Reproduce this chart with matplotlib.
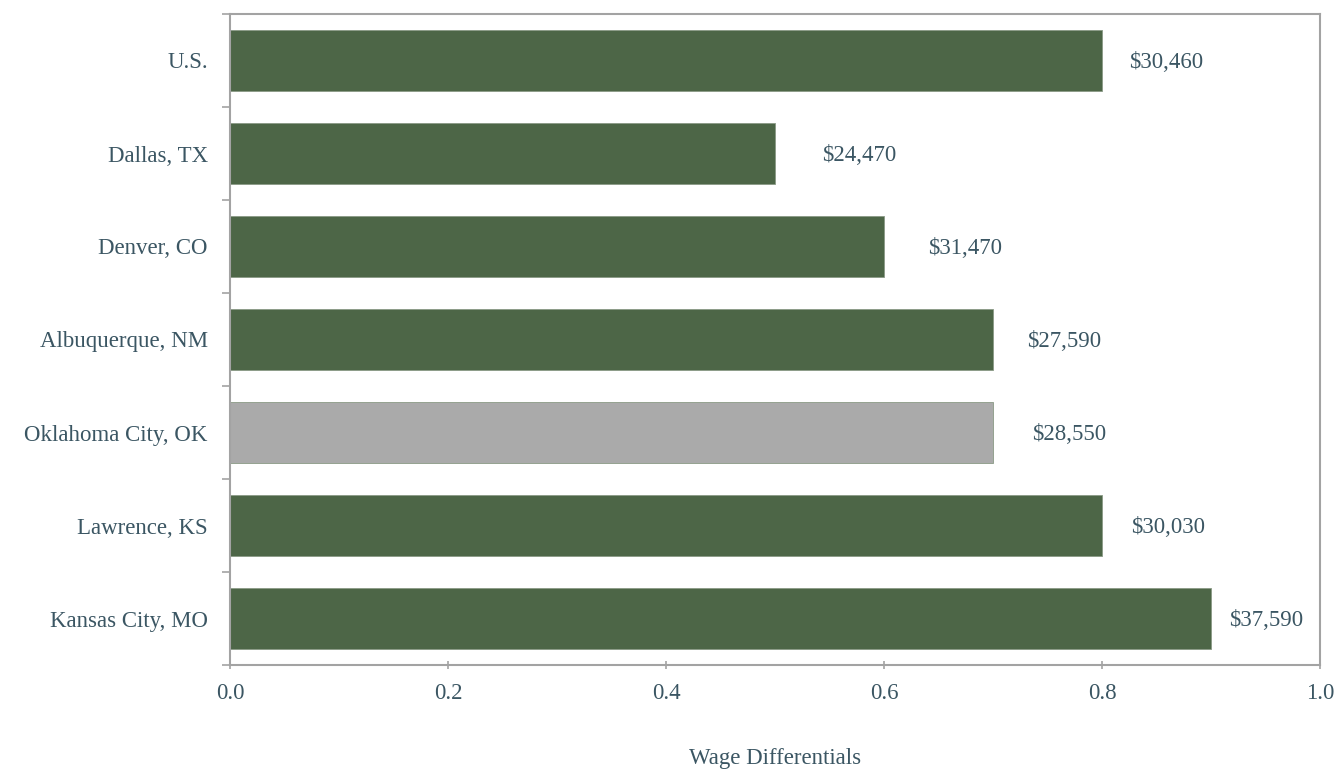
import matplotlib
matplotlib.use("Agg")
import matplotlib.pyplot as plt
import numpy as np

categories = ["U.S.", "Dallas, TX", "Denver, CO", "Albuquerque, NM",
              "Oklahoma City, OK", "Lawrence, KS", "Kansas City, MO"]
values = [0.8, 0.5, 0.6, 0.7, 0.7, 0.8, 0.9]
wage_labels = ["$30,460", "$24,470", "$31,470", "$27,590",
               "$28,550", "$30,030", "$37,590"]
highlight = "Oklahoma City, OK"
xticks = [0.0, 0.2, 0.4, 0.6, 0.8, 1.0]
xlabel = "Wage Differentials"

# label padding (pixels) from bar end
label_pad_px = [27, 47, 44, 34, 39, 29, 18]

green = "#4d6647"
gray = "#aaaaaa"
text_color = "#3b5663"
spine_color = "#a3a3a3"
fs = 16.5

plt.rcParams['font.family'] = ['Liberation Serif', 'DejaVu Serif']

fig = plt.figure(figsize=(13.36, 7.71), dpi=100)
ax = fig.add_axes([230/1336, 1-665/771, (1320-230)/1336, (665-14)/771])

y = np.arange(len(categories))
colors = [gray if c == highlight else green for c in categories]
ax.barh(y, values, height=0.66, color=colors, edgecolor="#8a9a86", linewidth=0.6, zorder=2)

ax.set_ylim(len(categories) - 0.5, -0.5)
ax.set_xlim(0, 1.0)

for yi, v, lab, pad in zip(y, values, wage_labels, label_pad_px):
    ax.annotate(lab, xy=(v, yi), xytext=(pad, -2), textcoords="offset pixels",
                va="center", ha="left", fontsize=fs, color=text_color)

ax.set_yticks(y)
ax.set_yticklabels(categories)
ax.set_yticks(np.arange(len(categories) + 1) - 0.5, minor=True)
ax.tick_params(axis="y", which="major", length=0, pad=16, labelsize=fs, labelcolor=text_color)
ax.tick_params(axis="y", which="minor", length=6, direction="out", color=spine_color, width=1.2)

ax.set_xticks(xticks)
ax.set_xticklabels([f"{t:.1f}" for t in xticks])
ax.tick_params(axis="x", which="major", length=6, direction="inout", color=spine_color, width=1.2,
               pad=10, labelsize=fs, labelcolor=text_color)

ax.set_xlabel(xlabel, fontsize=fs, color=text_color, labelpad=31.5)

for s in ax.spines.values():
    s.set_color(spine_color)
    s.set_linewidth(1.5)

fig.savefig("out.png", dpi=100)
